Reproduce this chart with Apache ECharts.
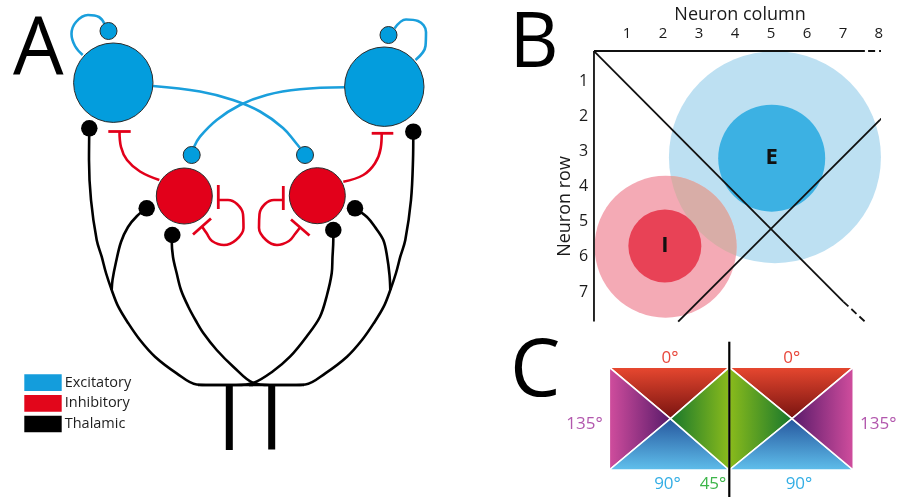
<!DOCTYPE html>
<html>
<head>
<meta charset="utf-8">
<title>E-I network schematic</title>
<script src="https://cdn.jsdelivr.net/npm/echarts@6/dist/echarts.min.js"></script>
<style>
html,body{margin:0;padding:0;background:#fff}
#main{width:897px;height:497px}
</style>
</head>
<body>
<div id="main"></div>
<script>
// ---------- panel A : circuit (pixel frame) ----------
var eCells   = [[113.3, 82.7], [384.3, 86.7]];
var eSpines  = [[108.5, 31], [388.5, 35], [191.7, 155], [305, 155]];
var iCells   = [[184.3, 196], [317.3, 195.7]];
var thalDots = [[89.3, 128.3], [413.3, 131.7], [146.7, 208.3], [172.3, 235], [333.3, 230], [355, 208.3]];

var exPaths = [
  [[82.7, 55], [75, 46], [71.5, 34], [76, 22], [88, 15], [99, 17], [104.5, 24]],
  [[394.5, 28.5], [406, 19.5], [418, 21], [426, 32], [425.5, 46], [415.5, 60]],
  [[153, 86], [200, 91.5], [233, 100], [260, 111.5], [283, 128], [296, 143], [300, 148]],
  [[345, 87.3], [300, 89.3], [266.7, 95], [240, 105], [216.7, 120], [200, 136.7], [194, 147]]
];
var inPaths = [
  [[159.3, 180], [140, 171.5], [127, 160], [121, 147], [119.5, 131.5]],
  [[343.3, 181.7], [363.3, 175], [375, 163.3], [380.7, 148.3], [381.7, 133.3]],
  [[218.3, 200], [228, 200], [237, 204], [243, 214], [243.5, 228], [236, 240], [224, 245], [212, 241], [206.5, 233], [202, 226.5]],
  [[283.3, 200], [274, 200], [265, 204], [259.5, 214], [259, 228], [266, 240], [277, 245], [289, 241], [295, 234], [300, 227.5]]
];
var inBars = [
  [[108.3, 131.5], [130.7, 131.5]],
  [[371.7, 133.3], [393.3, 133.3]],
  [[218.3, 185], [218.3, 209]],
  [[193, 234.5], [211, 218.5]],
  [[283.3, 186], [283.3, 210]],
  [[291, 219.5], [309.5, 235.5]]
];
var thPaths = [
  [[89.3, 128.3], [89, 160], [91, 200], [96.7, 240], [101.7, 256.7], [106, 273], [111.7, 290], [118.3, 306.7], [128.3, 323.3], [140, 340], [155, 356.7], [176.7, 373.3], [196.7, 384.5], [210, 385], [253, 385]],
  [[146.7, 208.3], [137, 216], [128, 227], [121, 242], [116, 262], [112.5, 280], [111.7, 290]],
  [[172.3, 235], [171.7, 240], [173, 257], [176.7, 273.3], [181, 290], [188.3, 306.7], [196, 321], [203.3, 333], [216.7, 350], [233.3, 366.7], [253.3, 383], [270, 385], [304, 385]],
  [[413.3, 131.7], [413, 160], [411, 200], [405.3, 240], [400.3, 256.7], [396, 273], [390.3, 290], [383.7, 306.7], [373.7, 323.3], [362, 340], [347, 356.7], [325.3, 373.3], [305.3, 384.5], [292, 385], [249, 385]],
  [[355, 208.3], [366.7, 216.7], [375, 227], [383.3, 240], [387, 256], [389.5, 275], [390.3, 290]],
  [[333.3, 230], [333.3, 240], [332.5, 257], [331.7, 273.3], [327, 295], [320, 316.7], [307, 336], [290, 356.7], [272, 372], [253.3, 383], [236, 385], [198, 385]]
];
var thStems = [
  [[229.3, 384], [229.3, 450]],
  [[271.7, 384], [271.7, 449.5]]
];
var legendNames = ['Excitatory', 'Inhibitory', 'Thalamic'];
var legendBoxes = [[43, 382.7], [43, 403.3], [43, 424]];

// ---------- panel B : connectivity footprint (neuron units) ----------
var colTicks = [1, 2, 3, 4, 5, 6, 7, 8];
var rowTicks = [1, 2, 3, 4, 5, 6, 7];
var eOuter = [5.11, 3.16];
var eInner = [5.02, 3.19];
var iOuter = [2.07, 5.71];
var iInner = [2.05, 5.69];
var frameLines = [
  [[0.08, 0.14], [7.61, 0.14]],
  [[0.08, 0.14], [0.08, 7.84]],
  [[0.08, 0.14], [7.01, 7.27]],
  [[2.42, 7.84], [8.03, 2.10]]
];
var frameDashes = [
  [[7.70, 0.14], [8.17, 0.14]],
  [[7.01, 7.27], [7.61, 7.84]],
  [[8.03, 2.10], [8.26, 1.87]]
];

// ---------- panel C : orientation map (pixel frame) ----------
var orientTris = [
  {angle: '0°',   pts: [[609.3, 367.3], [729.3, 367.3], [670.5, 418.7]]},
  {angle: '135°', pts: [[609.3, 367.3], [609.3, 470],   [670.5, 418.7]]},
  {angle: '90°',  pts: [[609.3, 470],   [729.3, 470],   [670.5, 418.7]]},
  {angle: '45°',  pts: [[729.3, 367.3], [729.3, 470],   [670.5, 418.7]]},
  {angle: '0°',   pts: [[729.3, 367.3], [853.3, 367.3], [792, 418.7]]},
  {angle: '45°',  pts: [[729.3, 367.3], [729.3, 470],   [792, 418.7]]},
  {angle: '90°',  pts: [[729.3, 470],   [853.3, 470],   [792, 418.7]]},
  {angle: '135°', pts: [[853.3, 367.3], [853.3, 470],   [792, 418.7]]}
];
var midLine = [[729.3, 341.7], [729.3, 497]];

var BLUE = '#039ddd', RED = '#e2001a';
var angleColors = {
  '0°':   ['#e6472f', '#781310'],
  '135°': ['#d04d9d', '#581a6a'],
  '90°':  ['#5fbeeb', '#26579e'],
  '45°':  ['#8abb1c', '#18772c']
};
var FONT = 'Open Sans';

var series = [];
function pathSeries(data, color, width, smooth, type, xi, z) {
  series.push({
    type: 'line', xAxisIndex: xi || 0, yAxisIndex: xi || 0, data: data,
    smooth: smooth, symbol: 'none', silent: true, z: z || 2, clip: false,
    lineStyle: {color: color, width: width, type: type || 'solid', cap: 'butt'}
  });
}
function dotSeries(data, size, color, border, z) {
  series.push({
    type: 'scatter', xAxisIndex: 0, yAxisIndex: 0, data: data, symbolSize: size,
    silent: true, z: z || 5,
    itemStyle: {color: color, borderColor: border ? '#2b2b2b' : color, borderWidth: border ? 1 : 0, opacity: 1}
  });
}

// A
thPaths.forEach(function (p) { pathSeries(p, '#000', 2.6, 0.35); });
thStems.forEach(function (p) { pathSeries(p, '#000', 7, 0); });
exPaths.forEach(function (p) { pathSeries(p, '#1a9fdc', 2.6, 0.4); });
inPaths.forEach(function (p) { pathSeries(p, RED, 2.6, 0.4); });
inBars.forEach(function (p) { pathSeries(p, RED, 2.8, 0); });
dotSeries(eCells, 79.4, BLUE, true);
dotSeries(eSpines, 17, BLUE, true);
dotSeries(iCells, 56, RED, true);
dotSeries(thalDots, 16.5, '#000', false);
var legendColors = ['#149ddc', '#e2061b', '#000'];
series.push({
  type: 'scatter', xAxisIndex: 0, yAxisIndex: 0, silent: true, z: 5,
  symbol: 'rect', symbolSize: [37.4, 16.7],
  data: legendBoxes.map(function (b, i) {
    return {name: legendNames[i], value: b, itemStyle: {color: legendColors[i], opacity: 1}};
  }),
  label: {show: true, position: 'right', distance: 3, formatter: '{b}',
          fontSize: 14.5, fontFamily: FONT, color: '#1e1e1e'}
});

// B
function zone(center, size, color, label, z) {
  series.push({
    type: 'scatter', xAxisIndex: 1, yAxisIndex: 1, silent: true, z: z, clip: false,
    data: [{name: label || '', value: center}], symbolSize: size,
    itemStyle: {color: color, opacity: 1},
    label: {show: !!label, position: 'inside', formatter: '{b}', fontSize: 22,
            fontWeight: 'bold', fontFamily: FONT, color: '#111'}
  });
}
zone(eOuter, 212, '#bde0f2', null, 3);
zone(iOuter, 142, '#f4aab5', null, 3.1);
// overlap of the two outer footprints
series.push({
  type: 'custom', xAxisIndex: 1, yAxisIndex: 1, silent: true, z: 3.2, clip: false,
  data: [[iOuter[0], iOuter[1], eOuter[0], eOuter[1]]],
  encode: {x: [0, 2], y: [1, 3]},
  renderItem: function (params, api) {
    var a = api.coord([api.value(0), api.value(1)]);
    var b = api.coord([api.value(2), api.value(3)]);
    return {
      type: 'circle', shape: {cx: a[0], cy: a[1], r: 71},
      style: {fill: '#d8ada7'},
      clipPath: {type: 'circle', shape: {cx: b[0], cy: b[1], r: 106}}
    };
  }
});
zone(eInner, 107, '#3cb1e3', 'E', 4);
zone(iInner, 73, '#e84256', 'I', 4);
frameLines.forEach(function (p) { pathSeries(p, '#111', 1.8, 0, 'solid', 1, 6); });
frameDashes.forEach(function (p) { pathSeries(p, '#111', 1.8, 0, [7, 4], 1, 6); });

// C
series.push({
  type: 'custom', xAxisIndex: 0, yAxisIndex: 0, silent: true, z: 2,
  data: orientTris.map(function (t) {
    return [t.pts[0][0], t.pts[0][1], t.pts[1][0], t.pts[1][1], t.pts[2][0], t.pts[2][1]];
  }),
  encode: {x: [0, 2, 4], y: [1, 3, 5]},
  renderItem: function (params, api) {
    var p = [0, 1, 2].map(function (k) { return api.coord([api.value(2 * k), api.value(2 * k + 1)]); });
    var mid = [(p[0][0] + p[1][0]) / 2, (p[0][1] + p[1][1]) / 2];
    var c = angleColors[orientTris[params.dataIndex].angle];
    return {
      type: 'polygon',
      shape: {points: p},
      style: {
        fill: new echarts.graphic.LinearGradient(mid[0], mid[1], p[2][0], p[2][1],
          [{offset: 0, color: c[0]}, {offset: 1, color: c[1]}], true),
        stroke: '#fff', lineWidth: 1.6, lineJoin: 'miter'
      }
    };
  }
});
pathSeries(midLine, '#000', 2.2, 0, 'solid', 0, 6);

var texts = [
  {t: 'A', x: 13, y: 51, s: 80, c: '#000', a: 'left'},
  {t: 'B', x: 509.5, y: 45.5, s: 76, c: '#000', a: 'left'},
  {t: 'C', x: 510, y: 373.5, s: 80, c: '#000', a: 'left'},
  {t: 'Neuron column', x: 740, y: 14.6, s: 18, c: '#1a1a1a', a: 'center'},
  {t: '0°', x: 670, y: 358, s: 17, c: '#e8473b', a: 'center'},
  {t: '0°', x: 791.7, y: 358, s: 17, c: '#e8473b', a: 'center'},
  {t: '135°', x: 584.5, y: 424, s: 17, c: '#b257ad', a: 'center'},
  {t: '135°', x: 878.3, y: 424, s: 17, c: '#b257ad', a: 'center'},
  {t: '90°', x: 667.5, y: 484, s: 17, c: '#34aee5', a: 'center'},
  {t: '45°', x: 713, y: 484, s: 17, c: '#3db54a', a: 'center'},
  {t: '90°', x: 799, y: 484, s: 17, c: '#34aee5', a: 'center'}
];
var graphic = texts.map(function (d) {
  return {type: 'text', x: d.x, y: d.y, z: 10, silent: true,
    style: {text: d.t, fontSize: d.s, fontFamily: FONT, fill: d.c, align: d.a, verticalAlign: 'middle'}};
});
graphic.push({type: 'text', x: 565.3, y: 206.5, rotation: Math.PI / 2, z: 10, silent: true,
  style: {text: 'Neuron row', fontSize: 18, fontFamily: FONT, fill: '#1a1a1a', align: 'center', verticalAlign: 'middle'}});

var chart = echarts.init(document.getElementById('main'), null, {renderer: 'canvas'});
chart.setOption({
  animation: false,
  backgroundColor: '#fff',
  grid: [
    {left: 0, top: 0, width: 897, height: 497, outerBoundsMode: 'none'},
    {left: 591.1, top: 46.1, width: 287.8, height: 281.1, outerBoundsMode: 'none'}
  ],
  xAxis: [
    {gridIndex: 0, type: 'value', min: 0, max: 897, show: false},
    {gridIndex: 1, type: 'value', min: 0, max: 8, interval: 1, position: 'top',
     axisLine: {show: false}, axisTick: {show: false}, splitLine: {show: false},
     axisLabel: {margin: 5, fontSize: 15, fontFamily: FONT, color: '#1a1a1a',
       formatter: function (v) { return colTicks.indexOf(v) >= 0 ? String(v) : ''; }}}
  ],
  yAxis: [
    {gridIndex: 0, type: 'value', min: 0, max: 497, inverse: true, show: false},
    {gridIndex: 1, type: 'value', min: 0, max: 8, interval: 1, inverse: true,
     axisLine: {show: false}, axisTick: {show: false}, splitLine: {show: false},
     axisLabel: {margin: 3, fontSize: 16, fontFamily: FONT, color: '#1a1a1a',
       formatter: function (v) { return rowTicks.indexOf(v) >= 0 ? String(v) : ''; }}}
  ],
  graphic: graphic,
  series: series
});
</script>
</body>
</html>
